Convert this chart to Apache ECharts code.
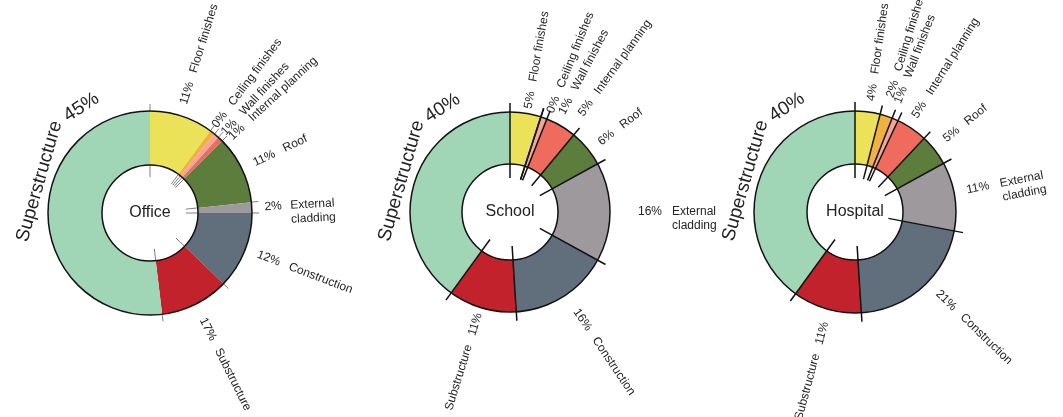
<!DOCTYPE html>
<html><head><meta charset="utf-8">
<script src="https://cdn.jsdelivr.net/npm/echarts@6/dist/echarts.min.js"></script>
<style>html,body{margin:0;padding:0;background:#fff}#c{width:1063px;height:417px}</style>
</head><body><div id="c"></div><script>
// ---------- data ----------
const CATEGORIES = ['Floor finishes', 'Ceiling finishes', 'Wall finishes', 'Internal planning', 'Roof', 'External cladding', 'Construction', 'Substructure', 'Superstructure'];
const NAME_TEXT = ['Floor finishes', 'Ceiling finishes', 'Wall finishes', 'Internal planning', 'Roof', 'External\ncladding', 'Construction', 'Substructure', 'Superstructure'];
const BUILDINGS = ['Office', 'School', 'Hospital'];
// printed percentages
const OFFICE_PCT = [11, 0, 1, 1, 11, 2, 12, 17, 45];
const SCHOOL_PCT = [5, 0, 1, 5, 6, 16, 16, 11, 40];
const HOSPITAL_PCT = [4, 2, 1, 5, 5, 11, 21, 11, 40];
// office arcs as actually drawn in the picture (differ from printed numbers)
const OFFICE_ARC = [10.1, 0.8, 0.8, 0.8, 10.8, 1.7, 12.2, 10.9, 51.9];

const PCT = [OFFICE_PCT, SCHOOL_PCT, HOSPITAL_PCT];
const ARC = [OFFICE_ARC, SCHOOL_PCT, HOSPITAL_PCT];

// ---------- style / layout ----------
const COLORS = ['#ebe25a', '#f1b13d', '#f4a59b', '#ee6b5e', '#5d7d3d', '#9d999d', '#616f7c', '#c1222b', '#a0d5b5'];
const FONT = "'Liberation Sans', Arial, sans-serif";
const LAYOUT = [
  {cx: 150, cy: 213, r0: 48, r: 102, tick: '#808080', tickW: 1, through: false,
   nudge: [-1, -1, 2, 3.5, 0, 0, -1, 0, 0], dr: [0, -6, -6, -4, 1, 1, 1, 4, 0]},
  {cx: 510, cy: 212, r0: 48, r: 100, tick: '#111', tickW: 1.5, through: true,
   nudge: [1, 4, 8, 5.5, 2, 0, -1.5, 1, 0], dr: [-7, -5, -1, 8, 1, 16, 6, -6, 0]},
  {cx: 855, cy: 212, r0: 48, r: 101, tick: '#111', tickW: 1.5, through: true,
   nudge: [1, -1, -2, -2, -1, -2, -4.5, -1, 0], dr: [-1, 7, 4, -1, 2, 2, 2, 1, 0]}
];

function total(a) { return a.reduce((s, v) => s + v, 0); }
function cumBefore(a, i) { let s = 0; for (let j = 0; j < i; j++) s += a[j]; return s; }
function midDeg(k, i) { const a = ARC[k]; return (cumBefore(a, i) + a[i] / 2) / total(a) * 360 + LAYOUT[k].nudge[i]; }
function polarPt(L, deg, r) { const t = deg * Math.PI / 180; return [L.cx + r * Math.sin(t), L.cy - r * Math.cos(t)]; }

const series = [];
const polar = [], angleAxis = [], radiusAxis = [];

LAYOUT.forEach((L, k) => {
  series.push({
    type: 'pie', z: 2, silent: true, animation: false,
    center: [L.cx, L.cy], radius: [L.r0, L.r], startAngle: 90, clockwise: true,
    avoidLabelOverlap: false, minAngle: 0,
    itemStyle: {borderWidth: 0},
    label: {
      show: true, position: 'outside', color: '#242424', fontFamily: FONT, fontSize: 12,
      formatter: function (p) {
        const i = p.dataIndex, pct = PCT[k][i] + '%', nm = NAME_TEXT[i];
        if (nm.indexOf('\n') >= 0) {
          const parts = nm.split('\n');
          const w = 'w' + pct.length;
          return '{' + w + '|' + pct + '}{n|' + parts[0] + '}\n{' + w + '|}{n|' + parts[1] + '}';
        }
        return midDeg(k, i) < 180 ? pct + '   ' + nm : nm + '   ' + pct;
      },
      rich: {
        w2: {width: 26, fontSize: 12, fontFamily: FONT, color: '#242424'},
        w3: {width: 34, fontSize: 12, fontFamily: FONT, color: '#242424'},
        n: {fontSize: 12, fontFamily: FONT, color: '#242424', lineHeight: 14}
      }
    },
    labelLine: {show: false},
    labelLayout: function (p) {
      const i = p.dataIndex;
      const m = midDeg(k, i);
      const pt = polarPt(L, m, L.r + 12 + L.dr[i]);
      const right = m < 180;
      let y = pt[1];
      if (NAME_TEXT[i].indexOf('\n') >= 0) y += 7;
      return {x: pt[0], y: y, rotate: right ? 90 - m : 270 - m, align: right ? 'left' : 'right', verticalAlign: 'middle'};
    },
    data: CATEGORIES.map((c, i) => {
      const d = {name: c, value: ARC[k][i], itemStyle: {color: COLORS[i]}};
      if (i === 8) d.label = {show: false};
      return d;
    })
  });

  polar.push({center: [L.cx, L.cy], radius: [L.r0, L.r]});
  angleAxis.push({polarIndex: k, type: 'value', min: 0, max: total(ARC[k]), startAngle: 90, clockwise: true, z: 4,
    axisLine: {show: true, lineStyle: {color: '#111', width: 1.5}},
    axisTick: {show: false}, axisLabel: {show: false}, splitLine: {show: false}});
  radiusAxis.push({polarIndex: k, type: 'value', min: L.r0, max: L.r, show: false});

  const bounds = ARC[k].map((v, i) => [L.r, cumBefore(ARC[k], i)]);
  series.push({
    type: 'custom', coordinateSystem: 'polar', polarIndex: k, z: 3, silent: true, animation: false,
    encode: {radius: 0, angle: 1},
    data: bounds,
    renderItem: function (params, api) {
      const a = api.value(1);
      const segs = L.through ? [[L.r0 - 14, L.r + 9]] : [[L.r0 - 12, L.r0], [L.r, L.r + 7]];
      return {type: 'group', children: segs.map(s => {
        const p1 = api.coord([s[0], a]), p2 = api.coord([s[1], a]);
        return {type: 'line', shape: {x1: p1[0], y1: p1[1], x2: p2[0], y2: p2[1]},
          style: {stroke: L.tick, lineWidth: L.tickW}};
      })};
    }
  });
});

const graphic = [];
LAYOUT.forEach((L, k) => {
  graphic.push({type: 'text', x: L.cx, y: L.cy, z: 20, silent: true,
    style: {text: BUILDINGS[k], fontSize: 16, fontFamily: FONT, fill: '#222', align: 'center', verticalAlign: 'middle'}});
  const np = polarPt(L, 286, L.r + 13);
  graphic.push({type: 'text', x: np[0], y: np[1], rotation: 74 * Math.PI / 180, z: 20, silent: true,
    style: {text: CATEGORIES[8], fontSize: 19, fontFamily: FONT, fill: '#222', align: 'center', verticalAlign: 'middle'}});
  const pp = polarPt(L, 327, L.r + 24);
  graphic.push({type: 'text', x: pp[0], y: pp[1], rotation: 33 * Math.PI / 180, z: 20, silent: true,
    style: {text: PCT[k][8] + '%', fontSize: 19, fontFamily: FONT, fill: '#222', align: 'center', verticalAlign: 'middle'}});
});

const chart = echarts.init(document.getElementById('c'), null, {renderer: 'canvas'});
chart.setOption({
  backgroundColor: '#fff', animation: false,
  polar: polar, angleAxis: angleAxis, radiusAxis: radiusAxis,
  series: series, graphic: graphic
});
</script></body></html>
